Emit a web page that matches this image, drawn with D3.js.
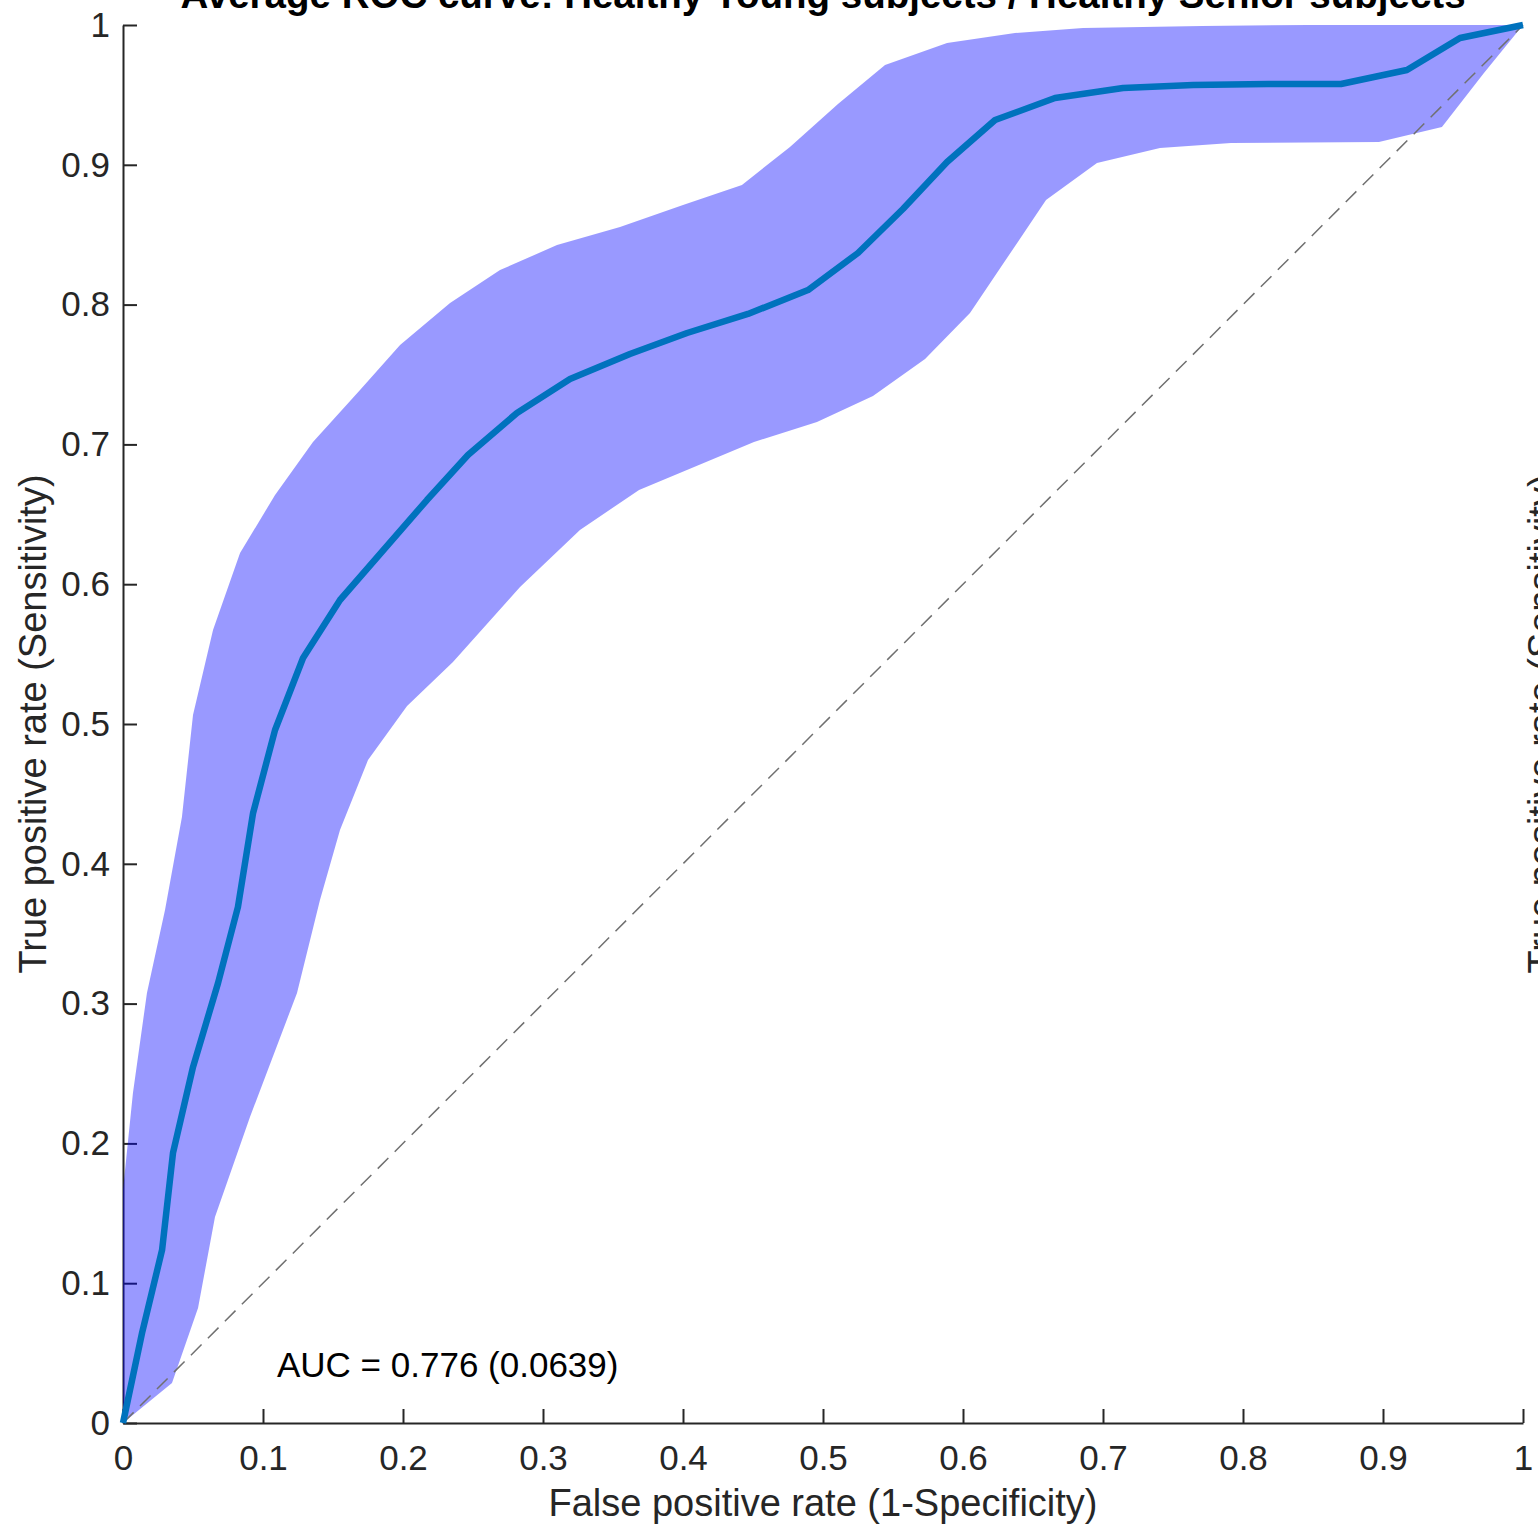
<!DOCTYPE html>
<html>
<head>
<meta charset="utf-8">
<script src="https://cdn.jsdelivr.net/npm/d3@7"></script>
<style>
  body { margin: 0; background: #fff; }
  svg { display: block; font-family: "Liberation Sans", Arial, sans-serif; }
  .axis text { font-size: 35px; fill: #262626; }
  .axis path, .axis line { stroke: #262626; stroke-width: 2; }
</style>
</head>
<body>
<div id="chart"></div>
<script>
// Data
const meanFpr = [0, 0.0136, 0.0279, 0.0357, 0.05, 0.0679, 0.0821, 0.0929, 0.1086, 0.1286, 0.155, 0.2171, 0.2464, 0.2814, 0.3193, 0.3621, 0.4029, 0.4464, 0.4893, 0.525, 0.5571, 0.5886, 0.6229, 0.6657, 0.7143, 0.7643, 0.8179, 0.87, 0.9171, 0.955, 1]
const meanTpr = [0, 0.0644, 0.1237, 0.1931, 0.2546, 0.3147, 0.3691, 0.4363, 0.4957, 0.5472, 0.5887, 0.6602, 0.6924, 0.7225, 0.7468, 0.7647, 0.7797, 0.7933, 0.8104, 0.8369, 0.8684, 0.902, 0.932, 0.9478, 0.9549, 0.9571, 0.9578, 0.9578, 0.9678, 0.9907, 1]

const upperFpr = [0, 0.0071, 0.0171, 0.03, 0.0421, 0.05, 0.0643, 0.0836, 0.1086, 0.1357, 0.1693, 0.1979, 0.2336, 0.2693, 0.31, 0.355, 0.4, 0.4421, 0.4764, 0.5107, 0.5443, 0.5886, 0.6371, 0.6857, 0.7707, 0.8464, 1]
const upperTpr = [0.1667, 0.236, 0.3076, 0.367, 0.4335, 0.5064, 0.5672, 0.6223, 0.6638, 0.7017, 0.7389, 0.7711, 0.8011, 0.8247, 0.8426, 0.8555, 0.8712, 0.8856, 0.9127, 0.9435, 0.9714, 0.9871, 0.9943, 0.9979, 0.9993, 1, 1]

const lowerFpr = [0, 0.035, 0.0536, 0.0657, 0.0907, 0.1243, 0.1407, 0.155, 0.175, 0.2029, 0.2357, 0.2836, 0.3264, 0.3686, 0.4507, 0.4957, 0.5357, 0.5729, 0.605, 0.6593, 0.6957, 0.7407, 0.7914, 0.8971, 0.9421, 0.9721, 1]
const lowerTpr = [0, 0.0286, 0.0823, 0.1474, 0.2189, 0.3076, 0.3741, 0.4242, 0.4742, 0.5129, 0.5444, 0.598, 0.6388, 0.6674, 0.7017, 0.716, 0.7346, 0.7611, 0.794, 0.8748, 0.9013, 0.912, 0.9156, 0.9163, 0.927, 0.9657, 1]

const tickValues = [0, 0.1, 0.2, 0.3, 0.4, 0.5, 0.6, 0.7, 0.8, 0.9, 1]
const tickLabels = ['0', '0.1', '0.2', '0.3', '0.4', '0.5', '0.6', '0.7', '0.8', '0.9', '1']

const titleText = 'Average ROC curve: Healthy Young subjects / Healthy Senior subjects'
const xLabelText = 'False positive rate (1-Specificity)'
const yLabelText = 'True positive rate (Sensitivity)'
const aucText = 'AUC = 0.776 (0.0639)'
const aucPos = [0.11, 0.033]

// Dimensions
const dims = {
  width: 1538,
  height: 1534,
  left: 123,
  right: 1523,
  top: 25,
  bottom: 1423,
}

const svg = d3.select('#chart')
  .append('svg')
  .attr('width', dims.width)
  .attr('height', dims.height)

// Scales
const xScale = d3.scaleLinear().domain([0, 1]).range([dims.left, dims.right])
const yScale = d3.scaleLinear().domain([0, 1]).range([dims.bottom, dims.top])

// Axes
const xAxis = d3.axisBottom(xScale)
  .tickValues(tickValues)
  .tickFormat((d, i) => tickLabels[i])
  .tickSizeInner(-14)
  .tickSizeOuter(0)
  .tickPadding(22)

svg.append('g')
  .attr('class', 'axis')
  .attr('transform', `translate(0,${dims.bottom})`)
  .call(xAxis)

const yAxis = d3.axisLeft(yScale)
  .tickValues(tickValues)
  .tickFormat((d, i) => tickLabels[i])
  .tickSizeInner(-14)
  .tickSizeOuter(0)
  .tickPadding(13)

svg.append('g')
  .attr('class', 'axis')
  .attr('transform', `translate(${dims.left},0)`)
  .call(yAxis)

svg.selectAll('.axis').attr('font-size', null).attr('font-family', null)

// Confidence band (upper edge then lower edge reversed)
const band = upperFpr.map((x, i) => [x, upperTpr[i]])
  .concat(lowerFpr.map((x, i) => [x, lowerTpr[i]]).reverse())

const lineGen = d3.line()
  .x(d => xScale(d[0]))
  .y(d => yScale(d[1]))

svg.append('path')
  .datum(band)
  .attr('d', d => lineGen(d) + 'Z')
  .attr('fill', 'rgb(0,0,255)')
  .attr('fill-opacity', 0.4)
  .attr('stroke', 'none')

// Chance diagonal
svg.append('path')
  .datum([[0, 0], [1, 1]])
  .attr('d', lineGen)
  .attr('fill', 'none')
  .attr('stroke', '#707070')
  .attr('stroke-width', 1.5)
  .attr('stroke-dasharray', '15,9')

// Mean ROC curve
svg.append('path')
  .datum(meanFpr.map((x, i) => [x, meanTpr[i]]))
  .attr('d', lineGen)
  .attr('fill', 'none')
  .attr('stroke', '#0072BD')
  .attr('stroke-width', 6.5)
  .attr('stroke-linejoin', 'round')

// Texts
svg.append('text')
  .attr('x', xScale(aucPos[0]))
  .attr('y', yScale(aucPos[1]))
  .attr('font-size', 35)
  .attr('fill', '#000')
  .text(aucText)

svg.append('text')
  .attr('x', (dims.left + dims.right) / 2)
  .attr('y', 8)
  .attr('text-anchor', 'middle')
  .attr('font-size', 38.5)
  .attr('font-weight', 'bold')
  .attr('fill', '#000')
  .text(titleText)

svg.append('text')
  .attr('x', (dims.left + dims.right) / 2)
  .attr('y', 1516)
  .attr('text-anchor', 'middle')
  .attr('font-size', 38)
  .attr('fill', '#262626')
  .text(xLabelText)

svg.append('text')
  .attr('transform', `translate(46,${(dims.top + dims.bottom) / 2}) rotate(-90)`)
  .attr('text-anchor', 'middle')
  .attr('font-size', 38)
  .attr('fill', '#262626')
  .text(yLabelText)

// second (clipped) y label at the right edge
svg.append('text')
  .attr('transform', `translate(1555,${(dims.top + dims.bottom) / 2}) rotate(-90)`)
  .attr('text-anchor', 'middle')
  .attr('font-size', 38)
  .attr('fill', '#262626')
  .text(yLabelText)
</script>
</body>
</html>
